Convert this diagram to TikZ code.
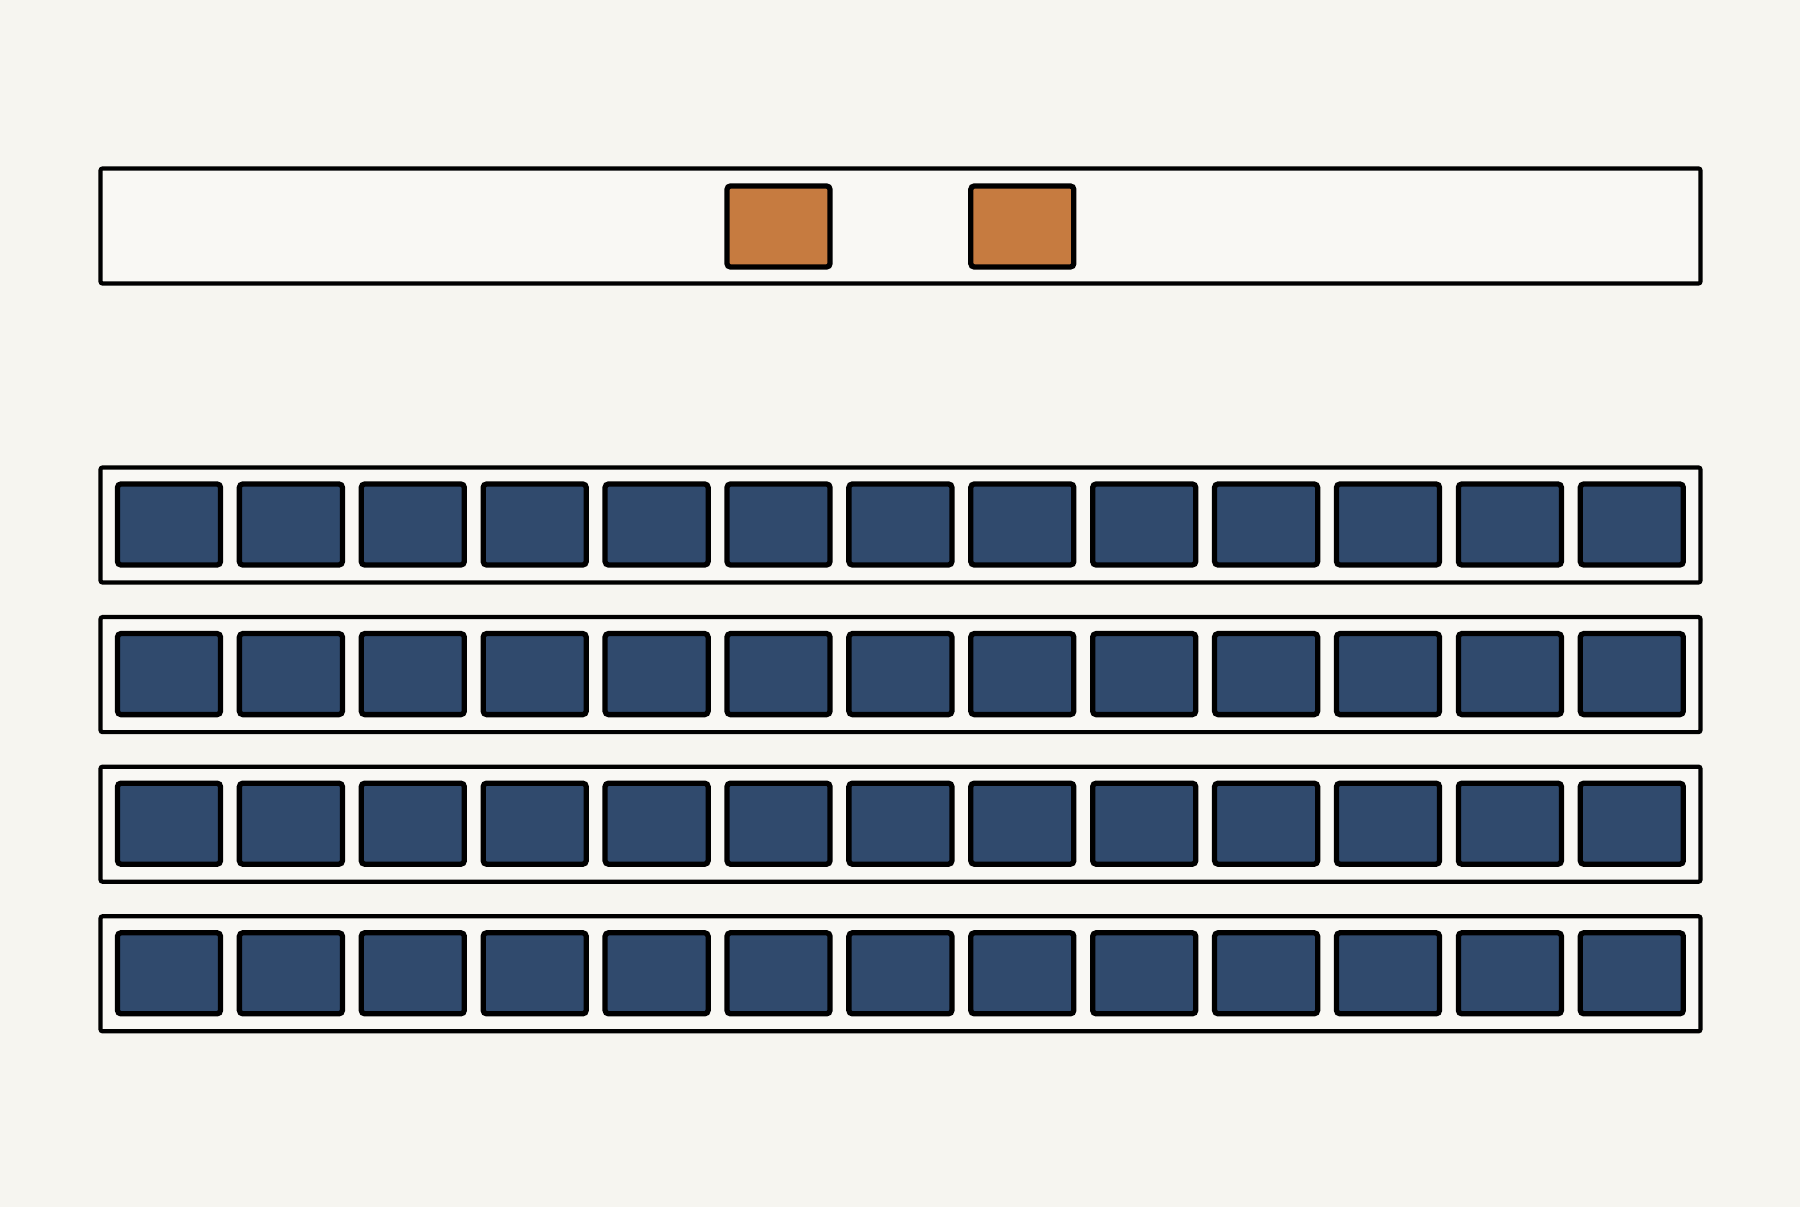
\documentclass[tikz,border=0pt]{standalone}
\usepackage{xcolor}
\usetikzlibrary{positioning}

\definecolor{paper}{HTML}{F6F5F0}
\definecolor{slot}{HTML}{F9F8F4}
\definecolor{cellblue}{HTML}{304A6D}
\definecolor{cellorange}{HTML}{C67B40}

\tikzset{
  frame/.style={draw=black,line width=1.2pt,fill=slot,rounded corners=0.6pt,
    minimum width=15.99cm,minimum height=1.15cm,inner sep=0pt},
  cell/.style={draw=black,line width=1.5pt,rounded corners=1pt,
    minimum width=1.03cm,minimum height=0.81cm,inner sep=0pt},
  bluecell/.style={cell,fill=cellblue},
  orangecell/.style={cell,fill=cellorange}
}

\begin{document}
\begin{tikzpicture}[x=0.01cm,y=-0.01cm]
    \fill[paper] (0,0) rectangle (1800,1207);
    \useasboundingbox (0,0) rectangle (1800,1207);

    % top bar with two orange cells
    \node[frame] (bus) at (900.5,226) {};
    \node[orangecell] (port1) at (778.5,226.5) {};
    \node[orangecell] (port2) at (1022.3,226.5) {};

    % four rows of blue cells
    \foreach \r in {0,...,3} {
        \node[frame] (row\r) at (900.5,525+149.6*\r) {};
        \foreach \c in {0,...,12} {
            \node[bluecell] (cell-\r-\c) at (169+121.9*\c,524.5+149.6*\r) {};
        }
    }
\end{tikzpicture}
\end{document}
